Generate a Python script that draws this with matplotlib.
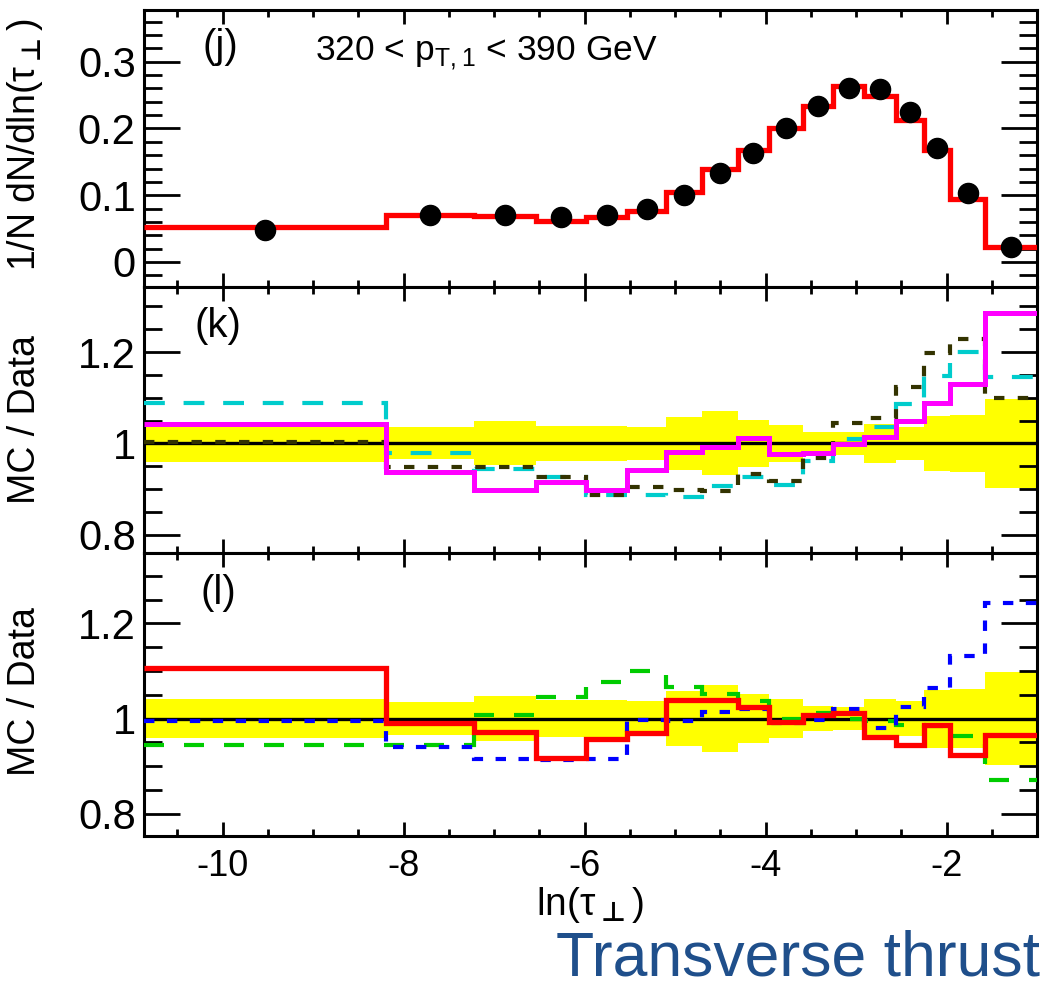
import numpy as np
import matplotlib
matplotlib.use("Agg")
import matplotlib.pyplot as plt
from matplotlib.ticker import MultipleLocator, FixedLocator

# ---------- bins and values ----------
edges = [-10.87, -8.20, -7.22, -6.54, -5.98, -5.53, -5.10, -4.70, -4.31,
         -3.96, -3.59, -3.25, -2.91, -2.56, -2.25, -1.96, -1.57, -1.00]

data = [0.048, 0.071, 0.071, 0.067, 0.070, 0.079, 0.101, 0.133, 0.163,
        0.201, 0.233, 0.260, 0.259, 0.224, 0.170, 0.103, 0.023]
mc_top = [0.053, 0.071, 0.069, 0.062, 0.068, 0.077, 0.105, 0.139, 0.168,
          0.200, 0.234, 0.264, 0.249, 0.212, 0.168, 0.094, 0.022]

# relative data uncertainty (half width of the band around 1)
unc = [0.040, 0.035, 0.048, 0.039, 0.039, 0.037, 0.058, 0.070, 0.051,
       0.040, 0.026, 0.025, 0.042, 0.037, 0.061, 0.063, 0.097]

# panel (k)
ratio_magenta = [1.042, 0.938, 0.899, 0.916, 0.897, 0.942, 0.982, 0.993, 1.011,
                 0.977, 0.978, 0.998, 1.013, 1.049, 1.088, 1.129, 1.286]
ratio_cyan = [1.088, 0.980, 0.945, 0.927, 0.887, 0.887, 0.883, 0.907, 0.927,
              0.909, 0.961, 1.010, 1.036, 1.086, 1.147, 1.200, 1.146]
ratio_olive = [1.002, 0.949, 0.949, 0.927, 0.888, 0.905, 0.899, 0.896, 0.932,
               0.917, 0.967, 1.044, 1.056, 1.124, 1.199, 1.229, 1.100]

# panel (l)
ratio_red = [1.107, 0.991, 0.972, 0.918, 0.957, 0.969, 1.039, 1.039, 1.025,
             0.993, 1.007, 1.011, 0.961, 0.945, 0.987, 0.923, 0.965]
ratio_blue = [0.995, 0.940, 0.914, 0.912, 0.914, 0.996, 0.995, 1.013, 1.021,
              0.990, 0.997, 1.021, 0.981, 1.024, 1.064, 1.131, 1.243]
ratio_green = [0.945, 0.945, 1.007, 1.046, 1.077, 1.100, 1.067, 1.051, 1.036,
               1.000, 1.011, 1.000, 0.995, 0.987, 0.985, 0.963, 0.870]

# ---------- style ----------
plt.rcParams['font.family'] = ['Liberation Sans', 'DejaVu Sans']
plt.rcParams['axes.unicode_minus'] = False
plt.rcParams['mathtext.fontset'] = 'dejavusans'

# tau in the text font, bold "up tack" subscript from DejaVu
TAU_PERP = r'$\mathregular{\tau}_{\mathbf{\bot}}$'

W, H = 1059, 986
fig = plt.figure(figsize=(W / 100, H / 100), dpi=100)

left = 144 / W
width = (1037 - 144) / W
def ax_rect(top_px, bot_px):
    return [left, 1 - bot_px / H, width, (bot_px - top_px) / H]

ax1 = fig.add_axes(ax_rect(10, 287))
ax2 = fig.add_axes(ax_rect(287, 553))
ax3 = fig.add_axes(ax_rect(553, 836))

edges = np.array(edges)
centers = 0.5 * (edges[1:] + edges[:-1])
unc = np.array(unc)

# ---------- top: distribution ----------
ax1.stairs(mc_top, edges, baseline=None, color='#ff0000', lw=3.8, zorder=3)
ax1.plot(centers, data, 'o', color='black', ms=14.5, zorder=4)
ax1.set_ylim(-0.0375, 0.3775)
ax1.yaxis.set_major_locator(FixedLocator([0, 0.1, 0.2, 0.3]))
ax1.yaxis.set_minor_locator(MultipleLocator(0.02))
ax1.set_yticklabels(['0', '0.1', '0.2', '0.3'])

# ---------- ratio panels ----------
def ratio_base(ax):
    ax.stairs(1 + unc, edges, baseline=1 - unc, fill=True,
              color='#ffff00', lw=0, zorder=1)
    ax.axhline(1.0, color='black', lw=2.4, zorder=2)
    ax.yaxis.set_major_locator(FixedLocator([0.8, 1.0, 1.2]))
    ax.yaxis.set_minor_locator(MultipleLocator(0.05))
    ax.set_yticklabels(['0.8', '1', '1.2'])

ratio_base(ax2)
ax2.stairs(ratio_cyan, edges, baseline=None, color='#00cccc', lw=3.0,
           ls=(0, (5.0, 4.5)), zorder=3)
ax2.stairs(ratio_olive, edges, baseline=None, color='#333300', lw=3.0,
           ls=(0, (2.5, 3.2)), zorder=3)
ax2.stairs(ratio_magenta, edges, baseline=None, color='#ff00ff', lw=3.6, zorder=4)
ax2.set_ylim(0.760, 1.3425)

ratio_base(ax3)
ax3.stairs(ratio_green, edges, baseline=None, color='#00cc00', lw=3.0,
           ls=(0, (4.8, 4.8)), zorder=3)
ax3.stairs(ratio_blue, edges, baseline=None, color='#0000ff', lw=3.0,
           ls=(0, (2.5, 3.0)), zorder=3)
ax3.stairs(ratio_red, edges, baseline=None, color='#ff0000', lw=3.8, zorder=4)
ax3.set_ylim(0.753, 1.348)

# ---------- axes cosmetics ----------
for ax in (ax1, ax2, ax3):
    ax.set_xlim(edges[0], edges[-1])
    ax.xaxis.set_major_locator(MultipleLocator(2))
    ax.xaxis.set_minor_locator(MultipleLocator(0.5))
    for s in ax.spines.values():
        s.set_linewidth(2.2)
    ax.tick_params(which='both', direction='in', top=True, right=True, width=2.0)
    ax.tick_params(axis='y', which='major', length=26, labelsize=30, pad=6)
    ax.tick_params(axis='y', which='minor', length=13)
    ax.tick_params(axis='x', which='major', length=10, labelsize=26, pad=9)
    ax.tick_params(axis='x', which='minor', length=5)

ax1.tick_params(axis='x', labelbottom=False)
ax2.tick_params(axis='x', labelbottom=False)

# panel letters and header
ax1.text(0.085, 0.866, '(j)', transform=ax1.transAxes, ha='center', va='center',
         fontsize=29)
ax2.text(0.083, 0.853, '(k)', transform=ax2.transAxes, ha='center', va='center',
         fontsize=29)
ax3.text(0.083, 0.859, '(l)', transform=ax3.transAxes, ha='center', va='center',
         fontsize=29)
fig.text(315 / W, 1 - 60 / H, r'320 < p$_{\mathregular{T,1}}$ < 390 GeV',
         ha='left', va='baseline', fontsize=25.5)

# axis titles
fig.text(25 / W, 1 - 145 / H, '1/N dN/dln(' + TAU_PERP + ')',
         rotation=90, ha='center', va='center', fontsize=27)
fig.text(25 / W, 1 - 420 / H, 'MC / Data', rotation=90, ha='center',
         va='center', fontsize=27)
fig.text(25 / W, 1 - 692 / H, 'MC / Data', rotation=90, ha='center',
         va='center', fontsize=27)
fig.text(590 / W, 1 - 905 / H, 'ln(' + TAU_PERP + ')',
         ha='center', va='center', fontsize=28)

fig.text(1040 / W, 1 - 975 / H, 'Transverse thrust', ha='right',
         va='baseline', fontsize=45, color='#1f4f8b')

fig.savefig('out.png', dpi=100)
